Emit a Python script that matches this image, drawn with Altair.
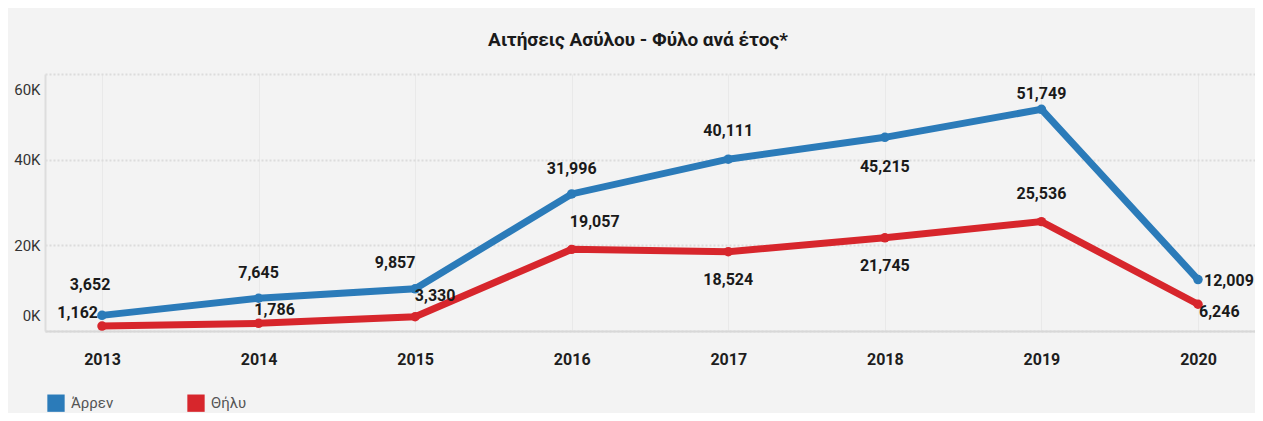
import altair as alt
import pandas as pd
import json

years = ["2013", "2014", "2015", "2016", "2017", "2018", "2019", "2020"]
male = [3652, 7645, 9857, 31996, 40111, 45215, 51749, 12009]
female = [1162, 1786, 3330, 19057, 18524, 21745, 25536, 6246]
series_names = ["Άρρεν", "Θήλυ"]
colors = ["#2b7bb9", "#d7262c"]
title = "Αιτήσεις Ασύλου - Φύλο ανά έτος*"

FONT = "Roboto, sans-serif"

rows = []
for y, m, f in zip(years, male, female):
    rows.append({"year": y, "series": series_names[0], "value": m})
    rows.append({"year": y, "series": series_names[1], "value": f})
df = pd.DataFrame(rows)

x_enc = alt.X("year:O", title=None, sort=years,
              scale=alt.Scale(type="point", padding=0.364),
              axis=alt.Axis(labelAngle=0, labelFontWeight="bold", labelFontSize=16,
                            labelColor="#1e1e1e", labelFont=FONT, labelPadding=20,
                            ticks=False, domainColor="#d8d8d8", domainWidth=2,
                            grid=True, gridColor="#e9e9e9", gridWidth=1))
y_enc = alt.Y("value:Q", title=None,
              scale=alt.Scale(domain=[0, 60000], nice=False),
              axis=alt.Axis(values=[0, 20000, 40000, 60000],
                            labelExpr="datum.value / 1000 + 'K'",
                            labelFont=FONT, labelFontSize=15, labelColor="#333333",
                            labelFlush=True, labelFlushOffset=-8, labelPadding=5, ticks=False,
                            domainColor="#dddddd", domainWidth=2,
                            grid=True, gridColor="#dcdcdc", gridDash=[2, 2], gridWidth=2))
color_enc = alt.Color("series:N", sort=series_names,
                      scale=alt.Scale(domain=series_names, range=colors),
                      legend=alt.Legend(title=None, orient="none", legendX=2, legendY=320,
                                        direction="horizontal", symbolType="square",
                                        symbolSize=300, symbolStrokeWidth=0,
                                        labelFont=FONT, labelFontSize=15, labelColor="#555555",
                                        columnPadding=73, labelOffset=6))

base = alt.Chart(df)
lines = base.mark_line(strokeWidth=7).encode(x=x_enc, y=y_enc, color=color_enc)
points = base.mark_circle(size=90, opacity=1).encode(
    x=alt.X("year:O", sort=years), y="value:Q",
    color=alt.Color("series:N", sort=series_names,
                    scale=alt.Scale(domain=series_names, range=colors), legend=None))


def labels(series, yrs, dx, dy, align="center"):
    expr = f"datum.series == {json.dumps(series)} && indexof({json.dumps(yrs)}, datum.year) >= 0"
    return base.transform_filter(expr).mark_text(
        font=FONT, fontSize=16, fontWeight="bold", color="#1a1a1a",
        dx=dx, dy=dy, align=align, baseline="middle").encode(
        x=alt.X("year:O", sort=years), y="value:Q",
        text=alt.Text("value:Q", format=","))


M, F = series_names
label_layers = [
    labels(M, ["2013"], -12, -30),
    labels(M, ["2014", "2016"], 0, -25),
    labels(M, ["2015"], -20, -26),
    labels(M, ["2017"], 0, -28),
    labels(M, ["2018"], 0, 30),
    labels(M, ["2019"], 0, -15),
    labels(M, ["2020"], 6, 1, "left"),
    labels(F, ["2013"], -4, -13, "right"),
    labels(F, ["2014"], 16, -13),
    labels(F, ["2015"], 20, -21),
    labels(F, ["2016"], 23, -27),
    labels(F, ["2017", "2018"], 0, 28),
    labels(F, ["2019"], 0, -28),
    labels(F, ["2020"], 1, 8, "left"),
]

chart = alt.layer(lines, points, *label_layers).properties(
    width=1210, height=257,
    title=alt.TitleParams(title, font=FONT, fontSize=19, fontWeight="bold",
                          color="#1a1a1a", anchor="middle", offset=24, dx=-12),
    padding={"left": 37, "top": 66, "right": 0, "bottom": 82},
    autosize=alt.AutoSizeParams(type="none"),
).configure(background="#f3f3f3").configure_view(stroke=None)

chart.save("out.html", embed_options={"renderer": "svg", "actions": False})
